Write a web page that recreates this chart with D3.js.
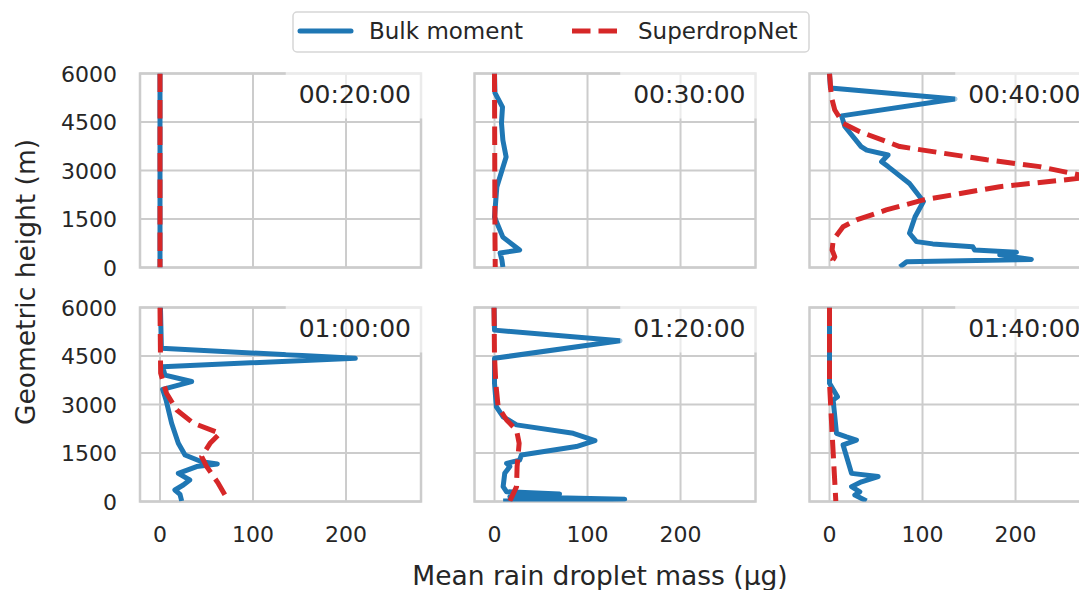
<!DOCTYPE html>
<html><head><meta charset="utf-8">
<script src="https://cdn.jsdelivr.net/npm/d3@7"></script>
<style>
html,body{margin:0;padding:0;background:#fff;}
svg{display:block;font-family:"DejaVu Sans",sans-serif;}
</style></head>
<body><svg id="c" width="1079" height="590"></svg>
<script>
// ---------- data ----------
const times = ["00:20:00","00:30:00","00:40:00","01:00:00","01:20:00","01:40:00"];
const seriesNames = ["Bulk moment","SuperdropNet"];
const xTicks = [0,100,200];
const yTicks = [0,1500,3000,4500,6000];
// each point: [height (m), mean rain droplet mass (µg)]
const bulk_0020 = [[6000,0],[0,0]];
const sdn_0020  = [[6000,0],[0,0]];
const bulk_0030 = [[6000,0],[5400,0.5],[4960,8.6],[4470,7.5],[3940,9],[3420,12.5],[2490,2.5],[1560,0],[940,9],[540,27],[450,6],[230,8],[15,9]];
const sdn_0030  = [[6000,0],[3000,0.3],[1000,0.5],[15,0.8]];
const bulk_0040 = [[6000,0],[5550,1],[5210,135],[4690,13],[4360,16.5],[3740,34],[3630,40],[3480,63],[3270,56],[3120,63],[2600,86],[2040,101],[1570,92],[1060,86],[800,93.5],[730,111],[640,154],[540,156],[470,201],[390,183],[250,217],[180,83],[15,75.6]];
const sdn_0040  = [[6000,0],[5280,2],[4870,5.7],[4460,14.6],[4200,32.6],[3740,75.6],[3330,169],[3120,226],[2860,269],[2800,282],[2760,269],[2500,183],[2090,101],[1780,61],[1470,29],[1260,14.6],[850,4],[540,2.8],[330,5.7],[230,3.5],[25,6.8]];
const bulk_0100 = [[6000,0.5],[4740,1.5],[4430,210],[4170,2.8],[3910,5.4],[3710,34],[3470,2.8],[3140,6.5],[2420,12.5],[1800,19.7],[1440,26.9],[1230,44.8],[1160,61.6],[1080,39.4],[870,19.7],[665,32],[510,25],[356,16],[222,21.5],[15,23.3]];
const sdn_0100  = [[6000,0],[3970,0.7],[3350,7],[2830,18],[2420,36],[2110,64.5],[1800,53.8],[1390,44.8],[1080,50.2],[560,62.7],[15,73.5]];
const bulk_0120 = [[6000,-0.5],[5300,0],[4970,135],[4430,0],[3660,0],[2930,2],[2620,9.3],[2370,23.7],[2110,84.6],[1880,108],[1700,88],[1440,29],[1280,27],[1180,13],[1080,16.5],[870,11],[460,9.3],[300,13],[232,70],[150,16.5],[68,140],[15,9.3]];
const sdn_0120  = [[6000,-0.5],[4500,0],[3660,1.4],[2930,3.9],[2520,13],[2210,23.7],[1800,26.5],[1080,24.3],[460,23.7],[15,16.5]];
const bulk_0140 = [[6000,0],[3660,0],[3240,8.6],[3140,3.9],[2110,7.5],[2000,18.3],[1900,29],[1750,14.6],[1390,18.3],[870,23.7],[770,52.3],[610,34.4],[460,23.7],[300,32.6],[200,27.2],[15,39.8]];
const sdn_0140  = [[6000,0],[3660,0],[2110,2.8],[15,6.8]];

const bulkSeries = [bulk_0020,bulk_0030,bulk_0040,bulk_0100,bulk_0120,bulk_0140];
const sdnSeries  = [sdn_0020,sdn_0030,sdn_0040,sdn_0100,sdn_0120,sdn_0140];

// ---------- layout ----------
const colX = [140,474.5,809.5], rowY = [73.5,307.5];
const PW = 281, PH = 194;
const BLUE = "#1f77b4", RED = "#d62728", GRID = "#cccccc", TXT = "#262626";
const svg = d3.select("#c");
const defs = svg.append("defs");

const x = d3.scaleLinear().domain([-21.5,280.6]).range([0,PW]);
const y = d3.scaleLinear().domain([0,6000]).range([PH,0]);
const line = d3.line().x(d=>x(d[1])).y(d=>y(d[0]));

times.forEach((t,i)=>{
  const r = Math.floor(i/3), c = i%3;
  const g = svg.append("g").attr("transform",`translate(${colX[c]},${rowY[r]})`);
  defs.append("clipPath").attr("id","clip"+i).append("rect").attr("width",PW).attr("height",PH);
  // grid
  g.append("g").selectAll("line").data(xTicks).join("line")
    .attr("x1",d=>x(d)).attr("x2",d=>x(d)).attr("y1",0).attr("y2",PH)
    .attr("stroke",GRID).attr("stroke-width",2);
  g.append("g").selectAll("line").data(yTicks).join("line")
    .attr("y1",d=>y(d)).attr("y2",d=>y(d)).attr("x1",0).attr("x2",PW)
    .attr("stroke",GRID).attr("stroke-width",2);
  // spines
  g.append("rect").attr("width",PW).attr("height",PH).attr("fill","none")
    .attr("stroke",GRID).attr("stroke-width",2.5);
  const lg = g.append("g").attr("clip-path",`url(#clip${i})`);
  lg.append("path").datum(bulkSeries[i]).attr("d",line).attr("fill","none")
    .attr("stroke",BLUE).attr("stroke-width",5).attr("stroke-linejoin","round");
  lg.append("path").datum(sdnSeries[i]).attr("d",line).attr("fill","none")
    .attr("stroke",RED).attr("stroke-width",5).attr("stroke-dasharray","18.5,8").attr("stroke-linejoin","round");
  // time label with translucent box
  const tx = g.append("text").attr("x",PW-10).attr("y",29).attr("text-anchor","end")
    .attr("font-size",25).attr("fill",TXT).text(t);
  const bb = tx.node().getBBox();
  g.insert("rect", () => tx.node()).attr("x",bb.x-13).attr("y",-2).attr("width",bb.width+26).attr("height",47)
    .attr("fill","#fff").attr("opacity",0.6);
  // y tick labels
  if (c===0) {
    g.append("g").selectAll("text").data(yTicks).join("text")
      .attr("x",-23).attr("y",d=>y(d)+8).attr("text-anchor","end")
      .attr("font-size",22).attr("fill",TXT).text(d=>d);
  }
  if (r===1) {
    g.append("g").selectAll("text").data(xTicks).join("text")
      .attr("x",d=>x(d)).attr("y",PH+40).attr("text-anchor","middle")
      .attr("font-size",22).attr("fill",TXT).text(d=>d);
  }
});

// axis labels
svg.append("text").attr("x",600).attr("y",585).attr("text-anchor","middle")
  .attr("font-size",26.5).attr("fill",TXT).text("Mean rain droplet mass (μg)");
svg.append("text").attr("transform","translate(35,282) rotate(-90)").attr("text-anchor","middle")
  .attr("font-size",26.5).attr("fill",TXT).text("Geometric height (m)");

// legend
const L = svg.append("g");
L.append("rect").attr("x",293).attr("y",12).attr("width",516).attr("height",40).attr("rx",4)
  .attr("fill","#fff").attr("stroke","#d6d6d6").attr("stroke-width",1.5);
L.append("line").attr("x1",300).attr("x2",351).attr("y1",31).attr("y2",31)
  .attr("stroke",BLUE).attr("stroke-width",5).attr("stroke-linecap","round");
L.append("text").attr("x",369).attr("y",39).attr("font-size",23).attr("fill",TXT).text(seriesNames[0]);
L.append("line").attr("x1",572).attr("x2",619).attr("y1",31).attr("y2",31)
  .attr("stroke",RED).attr("stroke-width",5).attr("stroke-dasharray","18.5,8");
L.append("text").attr("x",638).attr("y",39).attr("font-size",23).attr("fill",TXT).text(seriesNames[1]);
</script></body></html>
